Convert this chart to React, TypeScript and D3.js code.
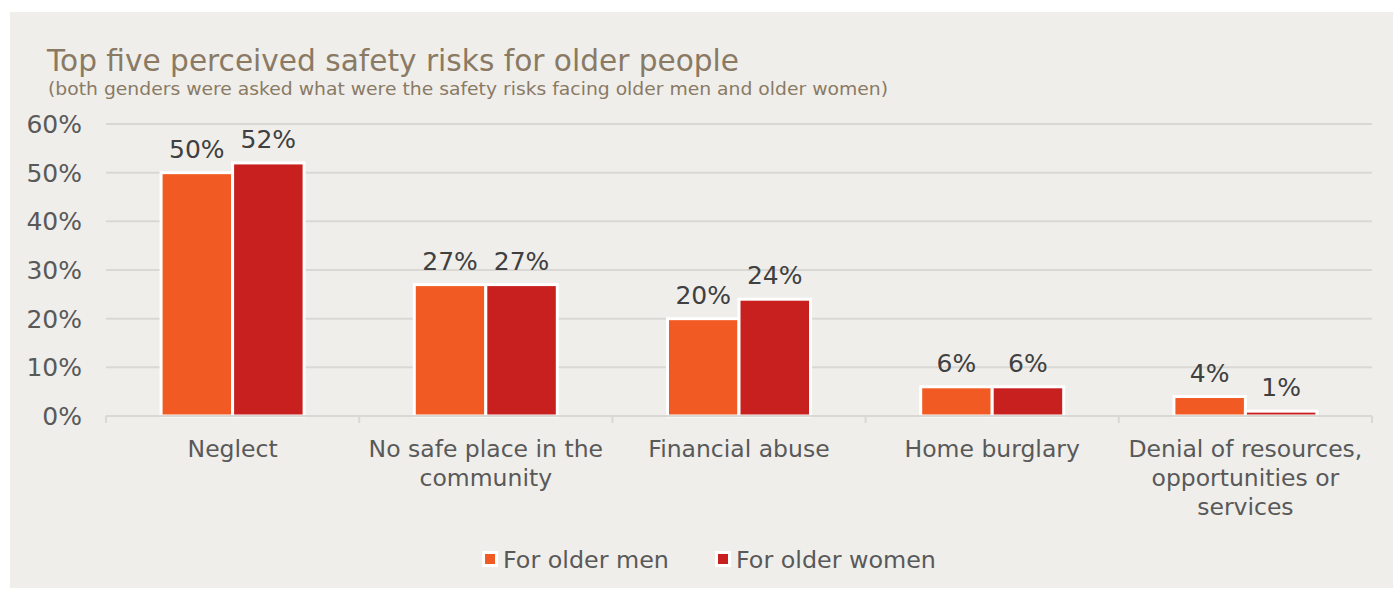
import React from "react";
import * as d3 from "d3";

const categories: string[][] = [
  ["Neglect"],
  ["No safe place in the", "community"],
  ["Financial abuse"],
  ["Home burglary"],
  ["Denial of resources,", "opportunities or", "services"],
];
const menValues = [50, 27, 20, 6, 4];
const womenValues = [52, 27, 24, 6, 1];
const seriesNames = ["For older men", "For older women"];
const seriesColors = ["#f15a22", "#c8201e"];
const yTicks = [0, 10, 20, 30, 40, 50, 60];

const W = 1393;
const H = 589;
const FONT = "'DejaVu Sans', Verdana, sans-serif";

export default function App() {
  const left = 106;
  const right = 1372;
  const top = 124;
  const bottom = 416;

  const x = d3
    .scaleBand<number>()
    .domain(d3.range(categories.length))
    .range([left, right]);
  const groupWidth = 143;
  const inner = d3.scaleBand<number>().domain([0, 1]).range([0, groupWidth]);
  const groupOffset = (x.bandwidth() - groupWidth) / 2;
  const y = d3.scaleLinear().domain([0, 60]).range([bottom, top]);

  const series = [menValues, womenValues];

  return (
    <svg
      width={W}
      height={H}
      style={{ position: "absolute", left: 0, top: 0, display: "block" }}
      fontFamily={FONT}
    >
      <rect x={0} y={0} width={W} height={H} fill="#ffffff" />
      <rect x={10} y={12} width={W - 10} height={576} fill="#efeeeb" />

      <text x={47} y={71} fontSize={29.6} fill="#8a7a64">
        Top five perceived safety risks for older people
      </text>
      <text
        x={48}
        y={95}
        fontSize={17.5}
        fill="#8a7a64"
        textLength={840}
        lengthAdjust="spacingAndGlyphs"
      >
        (both genders were asked what were the safety risks facing older men and older women)
      </text>

      {yTicks.map((t) => (
        <g key={t}>
          {t > 0 && (
            <line
              x1={left}
              x2={right}
              y1={y(t)}
              y2={y(t)}
              stroke="#d9d8d5"
              strokeWidth={2}
            />
          )}
          <text
            x={82}
            y={y(t)}
            dy="0.36em"
            textAnchor="end"
            fontSize={25}
            fill="#595959"
          >
            {t}%
          </text>
        </g>
      ))}

      {series.map((vals, si) =>
        vals.map((v, i) => {
          const bx = (x(i) as number) + groupOffset + (inner(si) as number);
          const bw = inner.bandwidth();
          return (
            <g key={`${si}-${i}`}>
              <rect
                x={bx}
                y={y(v)}
                width={bw}
                height={bottom - y(v)}
                fill={seriesColors[si]}
                stroke="#ffffff"
                strokeWidth={3}
              />
              <text
                x={bx + bw / 2}
                y={y(v) - 15}
                textAnchor="middle"
                fontSize={25}
                fill="#404040"
              >
                {v}%
              </text>
            </g>
          );
        })
      )}

      {/* category axis */}
      <line x1={left} x2={right} y1={bottom} y2={bottom} stroke="#d9d8d5" strokeWidth={2} />
      {d3.range(categories.length + 1).map((i) => {
        const tx = left + i * x.step();
        return (
          <line key={i} x1={tx} x2={tx} y1={bottom} y2={bottom + 7} stroke="#d9d8d5" strokeWidth={2} />
        );
      })}
      {categories.map((lines, i) => {
        const cx = (x(i) as number) + x.bandwidth() / 2;
        return (
          <text key={i} x={cx} y={457} textAnchor="middle" fontSize={23.5} fill="#595959">
            {lines.map((ln, li) => (
              <tspan key={li} x={cx} dy={li === 0 ? 0 : 29}>
                {ln}
              </tspan>
            ))}
          </text>
        );
      })}

      {/* legend */}
      {seriesNames.map((name, si) => {
        const lx = [482, 715][si];
        return (
          <g key={name}>
            <rect x={lx} y={551} width={16} height={16} fill="#ffffff" />
            <rect x={lx + 3} y={554} width={10} height={10} fill={seriesColors[si]} />
            <text x={lx + 21} y={568} fontSize={23.8} fill="#595959">
              {name}
            </text>
          </g>
        );
      })}
    </svg>
  );
}
